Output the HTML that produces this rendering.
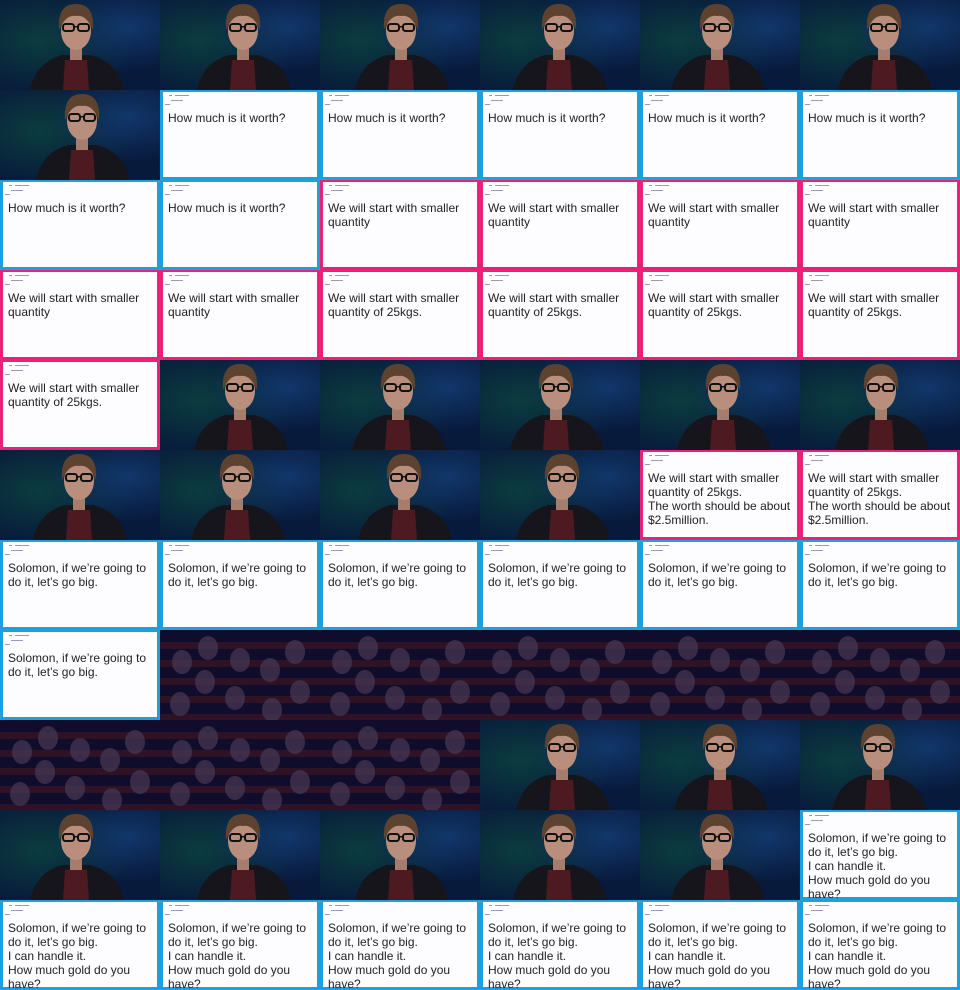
<!DOCTYPE html>
<html><head><meta charset="utf-8">
<style>
html,body{margin:0;padding:0;background:#000;}
#grid{position:relative;width:960px;height:990px;overflow:hidden;}
.f{position:absolute;width:160px;height:90px;overflow:hidden;box-sizing:border-box;}
.card{background:#1ea0dc;}
.card.pink{background:#ea2277;}
.card .in{position:absolute;left:3px;top:2px;right:3px;bottom:3px;background:#fdfcff;}
.card .t{position:absolute;left:5px;top:19px;width:152px;font-family:"Liberation Sans",sans-serif;font-size:12px;line-height:14px;color:#222;letter-spacing:0px;}
.card .h{position:absolute;height:1px;background:#9a9ab8;}
svg{display:block}
</style></head>
<body>
<div id="grid"></div>
<script>
const texts = {
 B1:"How much is it worth?",
 P2:"We will start with smaller<br>quantity",
 P3:"We will start with smaller<br>quantity of 25kgs.",
 P4:"We will start with smaller<br>quantity of 25kgs.<br>The worth should be about<br>$2.5million.",
 B5:"Solomon, if we’re going to<br>do it, let’s go big.",
 B6:"Solomon, if we’re going to<br>do it, let’s go big.<br>I can handle it.<br>How much gold do you<br>have?"
};
const layout = [
 "S S S S S S",
 "S B1 B1 B1 B1 B1",
 "B1 B1 P2 P2 P2 P2",
 "P2 P2 P3 P3 P3 P3",
 "P3 S S S S S",
 "S S S S P4 P4",
 "B5 B5 B5 B5 B5 B5",
 "B5 A A A A A",
 "A A A S S S",
 "S S S S S B6",
 "B6 B6 B6 B6 B6 B6"
];
function speaker(i){
 const cx = 80 + ((i*7)%9) - 4;
 return `<svg width="160" height="90" viewBox="0 0 160 90">
 <defs><radialGradient id="g${i}" cx="0.25" cy="0.45" r="0.6"><stop offset="0" stop-color="#0b3c3e"/><stop offset="1" stop-color="#081a3c"/></radialGradient>
 <radialGradient id="h${i}" cx="0.8" cy="0.3" r="0.5"><stop offset="0" stop-color="#123a70" stop-opacity="0.9"/><stop offset="1" stop-color="#123a70" stop-opacity="0"/></radialGradient></defs>
 <rect width="160" height="90" fill="url(#g${i})"/>
 <rect width="160" height="90" fill="url(#h${i})"/>
 <path d="M${cx-46} 90 Q${cx-40} 62 ${cx-14} 55 L${cx+14} 55 Q${cx+42} 62 ${cx+48} 90Z" fill="#16151c"/>
 <path d="M${cx-13} 90 L${cx-11} 60 L${cx+11} 60 L${cx+13} 90Z" fill="#4e1a22"/>
 <rect x="${cx-6}" y="44" width="12" height="16" fill="#a67c6c"/>
 <ellipse cx="${cx}" cy="31" rx="15" ry="19" fill="#b98e7c"/>
 <path d="M${cx-17} 30 Q${cx-19} 4 ${cx} 4 Q${cx+19} 4 ${cx+17} 30 Q${cx+10} 14 ${cx} 16 Q${cx-10} 14 ${cx-17} 30Z" fill="#5e4230"/>
 <rect x="${cx-13}" y="24" width="11" height="7" rx="2.5" fill="none" stroke="#111" stroke-width="2"/>
 <rect x="${cx+2}" y="24" width="11" height="7" rx="2.5" fill="none" stroke="#111" stroke-width="2"/>
 <rect x="${cx-2}" y="26" width="4" height="1.5" fill="#111"/>
 </svg>`;
}
function audience(i){
 let s=`<svg width="160" height="90" viewBox="0 0 160 90"><rect width="160" height="90" fill="#0e0a1c"/>`;
 for(let r=0;r<5;r++) s+=`<rect x="0" y="${12+r*18}" width="160" height="7" fill="#3a1216" opacity="0.8"/>`;
 const faces=[[22,32],[48,18],[45,52],[75,68],[110,40],[135,22],[112,80],[20,74],[140,62],[80,30]];
 faces.forEach(([x,y])=>{s+=`<ellipse cx="${x}" cy="${y}" rx="10" ry="12" fill="#4a3848" opacity="0.75"/>`;});
 s+=`<rect width="160" height="90" fill="#2a2ab0" opacity="0.1"/></svg>`;
 return s;
}
const grid=document.getElementById('grid');
let idx=0;
layout.forEach((row,r)=>{
 row.split(' ').forEach((k,c)=>{
  const d=document.createElement('div');
  d.className='f';
  d.style.left=(c*160)+'px'; d.style.top=(r*90)+'px';
  if(k==='S'){
   
   d.innerHTML=speaker(idx);
  } else if(k==='A'){
   
   d.innerHTML=audience(idx);
  } else {
   d.className='f card'+(k[0]==='P'?' pink':'');
   
   d.innerHTML=`<div class="in"><div class="h" style="left:6px;top:3px;width:3px"></div><div class="h" style="left:12px;top:3px;width:14px"></div><div class="h" style="left:8px;top:8px;width:12px"></div><div class="h" style="left:2px;top:12px;width:5px"></div><div class="t">${texts[k]}</div></div>`;
  }
  
  grid.appendChild(d);
  idx++;
 });
});
</script>
</body></html>
